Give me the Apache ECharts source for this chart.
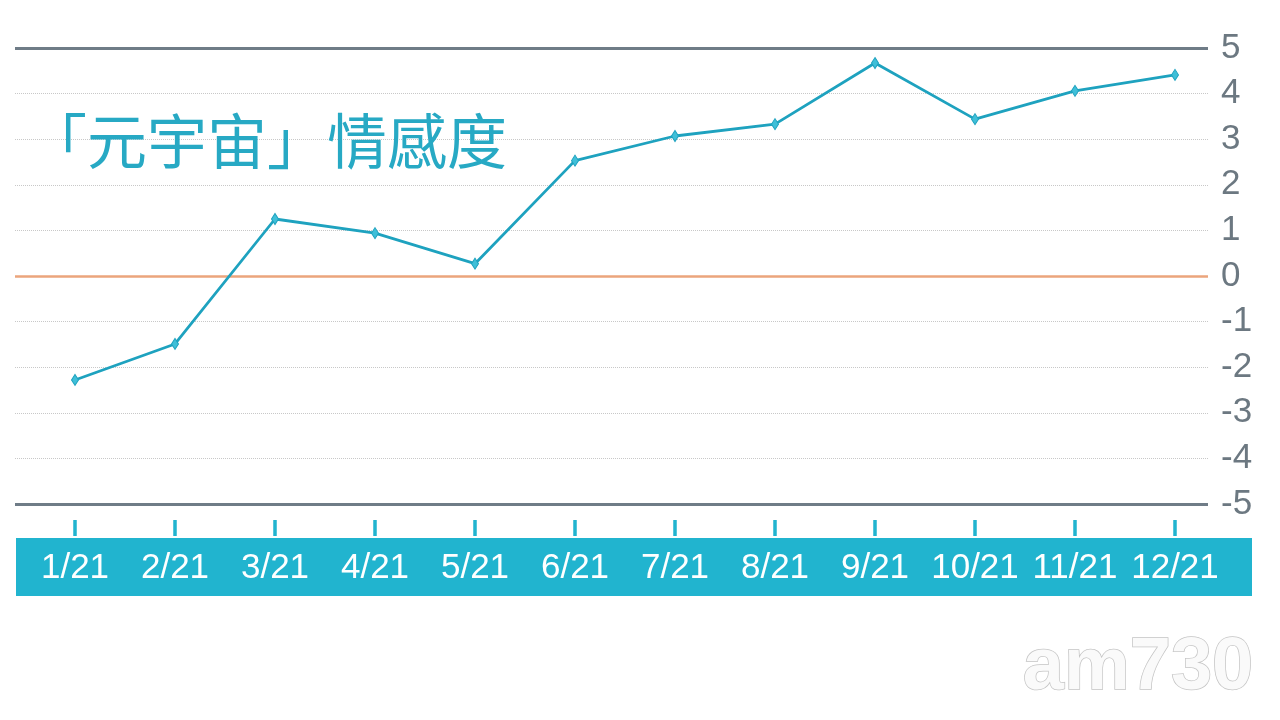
<!DOCTYPE html>
<html>
<head>
<meta charset="utf-8">
<script src="https://cdn.jsdelivr.net/npm/echarts@6/dist/echarts.min.js"></script>
<style>
  html, body { margin: 0; padding: 0; background: #fff; }
  #chart { width: 1280px; height: 720px; }
</style>
</head>
<body>
<div id="chart"></div>
<script>
const months = ['1/21', '2/21', '3/21', '4/21', '5/21', '6/21', '7/21', '8/21', '9/21', '10/21', '11/21', '12/21']
const sentiment = [-2.28, -1.49, 1.25, 0.94, 0.27, 2.53, 3.07, 3.33, 4.67, 3.44, 4.06, 4.41]
const yTicks = [-5, -4, -3, -2, -1, 0, 1, 2, 3, 4, 5]

const teal = '#21b4cf'
const lineColor = '#1ea2bf'
const narrow = "'Liberation Sans Narrow', 'Arial Narrow', 'Liberation Sans', sans-serif"

var chartDom = document.getElementById('chart')
var myChart = echarts.init(chartDom)

var option = {
  animation: false,
  title: {
    text: '「元宇宙」情感度',
    left: 22,
    top: 106,
    textStyle: {
      fontFamily: "'Noto Sans CJK TC', 'Noto Sans CJK SC', sans-serif",
      fontSize: 60,
      fontWeight: 'normal',
      color: '#27a9c4'
    }
  },
  grid: {
    left: 15,
    right: 72,
    top: 48,
    bottom: 216
  },
  graphic: [
    {
      type: 'rect',
      z: -10,
      shape: { x: 16, y: 538, width: 1236, height: 58 },
      style: { fill: teal }
    },
    {
      type: 'text',
      right: 26,
      bottom: 14,
      z: -10,
      style: {
        text: 'am730',
        font: "bold 74px " + narrow,
        fill: '#fafafa',
        stroke: '#c4c4c4',
        lineWidth: 1.5,
        shadowColor: 'rgba(0,0,0,0.25)',
        shadowBlur: 4,
        shadowOffsetX: 2,
        shadowOffsetY: 2
      }
    }
  ],
  xAxis: {
    type: 'value',
    min: -0.6,
    max: 11.33,
    offset: 16,
    axisLine: { show: false, onZero: false },
    splitLine: { show: false },
    axisTick: {
      show: true,
      length: 16,
      customValues: months.map((_, i) => i),
      lineStyle: { color: teal, width: 3.5 }
    },
    axisLabel: {
      customValues: months.map((_, i) => i),
      formatter: (v) => months[v],
      color: '#ffffff',
      fontSize: 35,
      fontFamily: narrow,
      margin: 31
    }
  },
  yAxis: {
    type: 'value',
    position: 'right',
    min: yTicks[0],
    max: yTicks[yTicks.length - 1],
    interval: 1,
    axisLine: { show: false },
    axisTick: { show: false },
    axisLabel: {
      color: '#6c7881',
      fontSize: 35,
      fontFamily: narrow,
      margin: 13
    },
    splitLine: {
      lineStyle: { color: '#c8c8c8', type: 'dotted', width: 1 }
    }
  },
  series: [
    {
      type: 'line',
      data: sentiment.map((v, i) => [i, v]),
      symbol: 'diamond',
      symbolSize: [7, 11],
      showSymbol: true,
      lineStyle: { color: lineColor, width: 2.8 },
      itemStyle: { color: '#3fbfd8', borderColor: lineColor, borderWidth: 1 },
      z: 5,
      markLine: {
        silent: true,
        symbol: 'none',
        label: { show: false },
        z: 1,
        data: [
          { yAxis: 5, lineStyle: { color: '#6f7c87', width: 3, type: 'solid' } },
          { yAxis: 0, lineStyle: { color: '#eba57c', width: 2.5, type: 'solid' } },
          { yAxis: -5, lineStyle: { color: '#6f7c87', width: 3, type: 'solid' } }
        ]
      }
    }
  ]
}

option && myChart.setOption(option)
</script>
</body>
</html>
